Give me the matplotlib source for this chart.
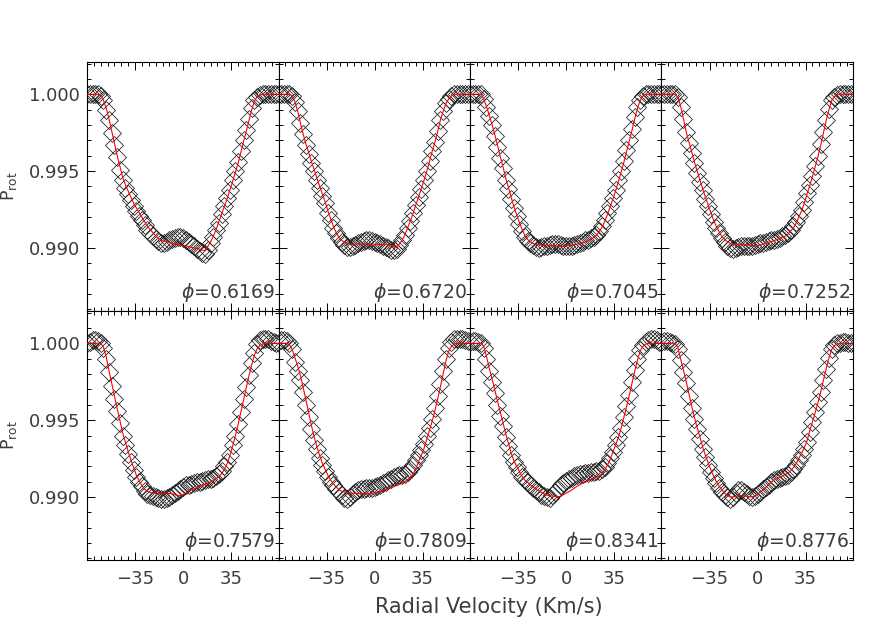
import matplotlib
matplotlib.use('Agg')
import matplotlib.pyplot as plt
import numpy as np
from matplotlib.ticker import MultipleLocator, FixedLocator, FormatStrFormatter

# radial velocity grid (km/s)
velocity = [-70, -68, -66, -64, -62, -60, -58, -56, -54, -52,
            -50, -48, -46, -44, -42, -40, -38, -36, -34, -32,
            -30, -28, -26, -24, -22, -20, -18, -16, -14, -12,
            -10, -8, -6, -4, -2, 0, 2, 4, 6, 8,
            10, 12, 14, 16, 18, 20, 22, 24, 26, 28,
            30, 32, 34, 36, 38, 40, 42, 44, 46, 48,
            50, 52, 54, 56, 58, 60, 62, 64, 66, 68,
            70]

x_ticks = [-35, 0, 35]
y_ticks = [0.990, 0.995, 1.000]

phases = ['0.6169', '0.6720', '0.7045', '0.7252',
          '0.7579', '0.7809', '0.8341', '0.8776']

# line depth below continuum, in units of 1e-4  (P_rot = 1 - depth*1e-4)
obs_1 = [0, 0, 0, 0, 0, 1, 4, 10, 17, 25,
         33, 41, 49, 56, 61, 65, 69, 73, 76, 79,
         82, 85, 88, 90, 92, 94, 95.5, 96.5, 96.5, 96,
         95, 94, 93.5, 93, 93, 93.5, 94.5, 96, 97.5, 99,
         100.5, 102, 103.5, 104, 101, 97, 93, 88.5, 83.5, 78,
         73, 67.5, 62, 56, 50, 44, 37, 30, 23, 16,
         9, 4, 1.5, 0.5, 0, 0, 0, 0, 0, 0,
         0]
model_1 = [0, 0, 0, 0, 0, 1, 4, 9, 16, 24,
           32, 40, 47, 54, 59, 63, 67, 71, 74, 77,
           80, 83, 86, 88, 90, 92, 94, 95, 95.5, 96,
           96.5, 97, 97.5, 97.8, 98, 98.3, 98.7, 99, 99.5, 100,
           100.3, 100.8, 101.5, 101.5, 99, 96, 92.5, 88, 83, 78,
           73, 68, 62.5, 57, 51, 45, 38, 31, 24, 17,
           10, 4.5, 1.5, 0.5, 0, 0, 0, 0, 0, 0,
           0]

obs_2 = [0, 0, 0, 0, 0, 1, 5, 11, 19, 26,
         33, 39, 45, 50, 55.5, 61, 66, 71, 77, 82,
         87, 90.5, 93.5, 96, 98, 99.5, 99.5, 99, 98, 97,
         96, 95.5, 95, 95, 95.5, 96, 96.5, 97.5, 98.5, 99.5,
         100, 101, 101.5, 100.5, 98, 95, 91.5, 87, 82.5, 77.5,
         72, 67, 61.5, 56, 50, 43.5, 37, 31, 24, 16.5,
         11, 6, 3, 1, 0, 0, 0, 0, 0, 0,
         0]
model_2 = [0, 0, 0, 0, 0, 1, 5, 11, 19, 26,
           32.5, 38, 44, 49, 54.5, 60, 65, 70, 76, 81,
           86, 90, 93, 95, 96.3, 97, 97.6, 97.8, 97.5, 97.3,
           97.8, 97.5, 97.3, 97.8, 98.3, 97.8, 97.5, 97.8, 98, 97.8,
           98, 98.5, 99.5, 99.5, 97.5, 95, 91.5, 87, 82.5, 77.5,
           72, 67, 61.5, 56, 50, 43.5, 37, 31, 24, 16.5,
           11, 6, 3, 1, 0, 0, 0, 0, 0, 0,
           0]

obs_3 = [0, 0, 0, 0, 0, 3, 8, 14, 20, 27,
         34, 41.5, 48, 55.5, 61.5, 68, 74, 79.5, 84.5, 89,
         93, 95.5, 97, 98, 99.5, 100, 99.5, 99, 98.5, 98,
         97.5, 97.5, 97.5, 98, 98.5, 99, 99, 98.5, 98, 97.5,
         97, 96, 95, 94.5, 93.8, 92.8, 91.3, 89, 86, 82,
         77.5, 72.5, 67.5, 62, 56, 50, 43.5, 36.5, 29.5, 22.5,
         15, 8.5, 3.5, 1, 0, 0, 0, 0, 0, 0,
         0]
model_3 = [0, 0, 0, 0, 0, 3, 8, 13.5, 19.5, 26,
           33, 40.5, 47, 54.5, 60.5, 67, 73, 78.5, 83.5, 88,
           92, 94.5, 96, 97, 97.6, 97.8, 98, 98.2, 98.2, 98.4,
           98.5, 98.5, 98.8, 99, 98.8, 98.7, 98.5, 98.3, 97.8, 97.5,
           97, 96.5, 96, 95.2, 94.3, 93.2, 91.8, 89.5, 86.8, 83,
           78.5, 73.5, 68.5, 63, 57, 51, 44.5, 37.5, 30.5, 23.5,
           16, 9, 4, 1, 0, 0, 0, 0, 0, 0,
           0]

obs_4 = [0, 0, 0, 0, 0, 0, 2, 8, 16, 24.5,
         31.5, 38, 44.5, 51, 57, 62.5, 68, 73, 78, 83,
         87, 90.5, 93.5, 96, 98.5, 100, 100.5, 100, 99.5, 99,
         98.5, 98.5, 98.5, 98.5, 98, 97.5, 97, 96.5, 96, 95.5,
         95, 94.5, 94, 93.5, 92.5, 91.5, 90, 88, 86, 83,
         79, 75, 70, 64.5, 59, 53, 46.5, 40, 32.5, 24.5,
         16.5, 9.5, 4, 1.5, 0.5, 0, 0, 0, 0, 0,
         0]
model_4 = [0, 0, 0, 0, 0, 0, 2, 8, 16, 24.5,
           31, 37.5, 44, 50, 56, 61.5, 67, 72, 77, 82,
           86, 89.5, 92.5, 94.5, 96, 97, 97.6, 97.7, 97.6, 97.6,
           97.8, 98, 98.3, 98.6, 98.7, 98.5, 98, 97.5, 97, 96.3,
           95.8, 95.2, 94.5, 93.8, 93, 92.4, 91, 89, 87.2, 84,
           80, 76, 71, 65, 59.5, 53.5, 47, 40.5, 33, 25,
           17, 10, 4, 1.5, 0.5, 0, 0, 0, 0, 0,
           0]

obs_5 = [0, -1, -2, -2, -1.5, 0, 3, 10, 19, 27.5,
         36, 44, 52, 60, 66, 72, 77.5, 82.5, 87, 90.5,
         93, 96, 98, 99, 99.5, 100, 100.5, 101, 101, 100.5,
         100, 99, 97.5, 96, 94.5, 93.5, 92.5, 92, 91.5, 91,
         90.5, 90, 89.5, 89, 88.5, 88, 87.5, 86.5, 85, 83,
         80, 77, 72.5, 66.5, 60, 52.5, 44.5, 36.5, 28.5, 20.5,
         13, 6, 0.5, -2, -3, -3, -2.5, -1.5, -1, -0.5,
         0]
model_5 = [0, 0, 0, 0, 0, 0, 2.5, 9, 18, 26,
           34.5, 42.5, 50.5, 58.5, 64.5, 70.5, 76, 81, 86, 89.5,
           92.5, 95, 96.3, 97, 97.5, 97.7, 97.7, 97.7, 97.7, 97.7,
           97.7, 98, 98.5, 99, 99.2, 98.5, 97.5, 96.3, 95.3, 94.7,
           94, 93.3, 92.5, 91.8, 91, 90.3, 89.3, 88, 86.8, 85,
           82, 78.5, 73.5, 67, 60.5, 53, 45, 37, 29, 21,
           14, 7.5, 3.5, 1.5, 0.5, 0, 0, 0, 0, 0,
           0]

obs_6 = [-1.5, -2, -2, -1.5, 0, 4, 12, 18, 24, 32,
         40, 48, 56, 63, 69, 74.5, 79.5, 83, 87, 90,
         92.5, 94.5, 97, 99, 100.5, 101, 100, 98, 96.5, 95.5,
         95, 94.5, 94, 94, 94, 93.8, 93, 92, 91, 90,
         89, 88, 87, 86.5, 86, 85.5, 85, 83.5, 81.5, 79,
         76, 73, 69.5, 65.5, 60.5, 55, 49, 42, 34.5, 26.5,
         18, 10, 3, -1, -2.5, -3, -3, -2.5, -2, -1.5,
         -1]
model_6 = [0, 0, 0, 0, 1, 4, 9.5, 15, 21, 29,
           37, 45.5, 53.5, 61, 67.5, 73, 78.3, 82, 86, 89,
           91.5, 93.5, 95.3, 96.2, 96.7, 97, 97.3, 97.5, 97.6, 97.7,
           97.8, 98, 98.1, 98.1, 97.8, 97.4, 97, 96.5, 96, 95.3,
           94.6, 93.9, 93.2, 92.5, 91.7, 91, 90, 89, 87.5, 85.3,
           81.5, 77, 73, 68.5, 62.5, 56.5, 50.5, 43.5, 36, 28,
           19.5, 11.5, 5, 2, 0.5, 0, 0, 0, 0, 0,
           0]

obs_7 = [-1, -1.5, -1.5, -1, 0, 3, 10, 18, 25, 32.5,
         40, 47, 54, 61, 67, 72.5, 77, 80.5, 84, 87,
         89, 90.5, 92, 94, 95.5, 97, 98.5, 99.5, 100.3, 100.5,
         99, 97, 94.5, 92.5, 91, 89.5, 88.5, 87.5, 86.5, 85.8,
         85.3, 85, 84.5, 84.2, 84, 83.7, 83.3, 83, 82, 80.5,
         78, 74.5, 70.5, 66, 61, 55, 48, 41, 33.5, 25.5,
         17.5, 10.5, 4.5, 1, -1, -2, -3, -3, -2, -1,
         -0.5]
model_7 = [0, 0, 0, 0, 0, 2, 8.5, 16, 23, 30,
           37.5, 44.5, 51.5, 58.8, 65, 71.5, 76.5, 80, 83.5, 86.8,
           89, 90.5, 92, 93.5, 95, 96, 97, 98, 98.8, 99.2,
           99.4, 99.6, 99.8, 99.6, 98.5, 97.5, 96.5, 95.5, 94.3, 93,
           92, 91, 90, 89.3, 88.6, 88, 87.3, 86.5, 85, 82.5,
           79.5, 75.7, 71, 66.3, 61.5, 55.5, 48.5, 41.5, 34, 26,
           18, 11, 5, 2, 0.5, 0, 0, 0, 0, 0,
           0]

obs_8 = [-1, -1.5, -1.5, -1, -0.5, 0.5, 4, 11, 18.5, 26,
         34, 42, 49.5, 56, 62, 68.5, 74, 79, 83.5, 87.5,
         91, 94, 96.5, 98.5, 100, 101, 100, 97.5, 95.5, 95.5,
         96.5, 98, 99.5, 100, 99.5, 98, 96.5, 95, 93.5, 92,
         90.5, 89, 88, 87.5, 87, 86.5, 85.5, 84, 82, 79.5,
         76, 72.5, 68.5, 64, 57.5, 51.5, 45, 38.5, 31.5, 24,
         16.5, 9.5, 4, 1, 0, -0.5, -1, -1, -0.5, -0.5,
         0]
model_8 = [0, 0, 0, 0, 0, 0, 3, 10.5, 17.5, 25,
           33, 41, 48.3, 55, 61, 67.5, 73, 77.8, 82.5, 86.5,
           90, 93, 95.5, 97.5, 99, 100, 100, 99.6, 99.3, 99.2,
           99.3, 99.5, 99.8, 99.9, 99.3, 98, 96.8, 95.5, 93.8, 92,
           90.3, 89, 88, 87.2, 86.3, 85.5, 84.5, 83, 81, 78.5,
           75, 71.5, 68, 63.5, 57, 51, 45, 38.5, 31.5, 24,
           16.5, 9.5, 4, 1.5, 0.5, 0, 0, 0, 0, 0,
           0]

observed = [obs_1, obs_2, obs_3, obs_4, obs_5, obs_6, obs_7, obs_8]
models = [model_1, model_2, model_3, model_4, model_5, model_6, model_7, model_8]

text_color = '#3c3c3c'
plt.rcParams['font.family'] = ['DejaVu Sans']
plt.rcParams['mathtext.fontset'] = 'dejavusans'

fig, axes = plt.subplots(2, 4, figsize=(8.72, 6.23), dpi=100, sharex=True, sharey=True)
fig.subplots_adjust(left=0.0998, right=0.9782, top=0.9005, bottom=0.1011,
                    wspace=0, hspace=0)

v = np.array(velocity)
for i, ax in enumerate(axes.flat):
    p_obs = 1 - np.array(observed[i]) * 1e-4
    p_mod = 1 - np.array(models[i]) * 1e-4
    ax.plot(v, p_obs, linestyle='none', marker='D', markersize=9.3,
            markerfacecolor='none', markeredgecolor='#1a1a1a', markeredgewidth=0.55)
    ax.plot(v, p_mod, color='red', linewidth=0.8, zorder=3)

    ax.text(0.985, 0.052, r'$\phi$=' + phases[i], transform=ax.transAxes,
            ha='right', va='baseline', fontsize=13.5, color=text_color)

    ax.set_xlim(-70, 69.5)
    ax.set_ylim(0.9859, 1.0021)
    ax.xaxis.set_major_locator(FixedLocator(x_ticks))
    ax.xaxis.set_minor_locator(MultipleLocator(5))
    ax.yaxis.set_major_locator(FixedLocator(y_ticks))
    ax.yaxis.set_minor_locator(MultipleLocator(0.001))
    ax.yaxis.set_major_formatter(FormatStrFormatter('%.3f'))
    ax.tick_params(which='both', direction='in', top=True, right=True,
                   labelsize=13, labelcolor=text_color, width=0.7)
    ax.tick_params(which='major', length=6)
    ax.tick_params(which='minor', length=3)
    ax.tick_params(axis='x', pad=7)
    ax.tick_params(axis='y', pad=5)
    for s in ax.spines.values():
        s.set_linewidth(0.8)

# row labels, centred on each row
for row_center in (186, 435):
    fig.text(9 / 872, 1 - row_center / 623, r'P$_{\rm rot}$', rotation=90,
             ha='center', va='center', fontsize=12.5, color=text_color)
fig.text(489 / 872, 1 - 607 / 623, 'Radial Velocity (Km/s)', ha='center',
         va='center', fontsize=15, color=text_color)

fig.savefig('out.png', dpi=100)
